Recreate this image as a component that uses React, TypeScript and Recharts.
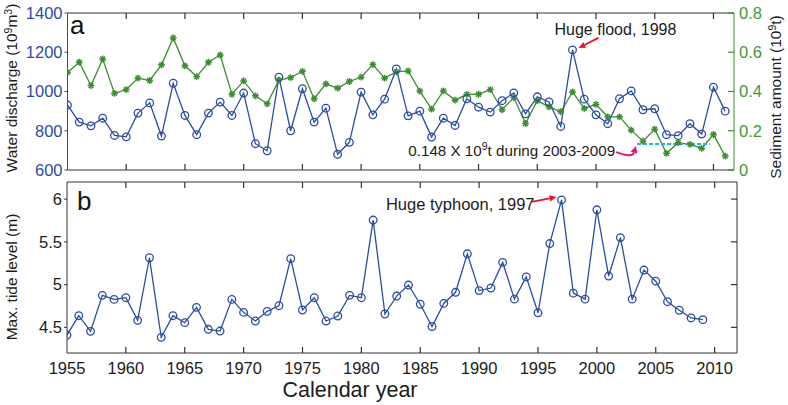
import {ComposedChart, Customized, Line, LineChart, ReferenceDot, ReferenceLine, XAxis, YAxis} from 'recharts';

const FONT = '"Liberation Sans", Arial, Helvetica, sans-serif';
const BLUE = '#2c4ca3';
const GREEN = '#3b8f2d';
const GREEN_TEXT = '#3f9a34';
const FRAME = '#333333';
const INK = '#1c1c1c';
const RED = '#e8142e';
const MAGENTA = '#e0167c';
const CYAN = '#1cb6ea';

// years 1955-2011
const years = Array.from({length: 57}, (_, i) => 1955 + i);

// water discharge, 10^9 m^3
const discharge = [
  931, 844, 825, 864, 776, 769, 890, 942, 773, 1042,
  878, 780, 890, 946, 878, 992, 734, 698, 1073, 800,
  1014, 844, 915, 680, 741, 997, 881, 961, 1115, 876,
  900, 768, 864, 827, 963, 920, 895, 953, 993, 886,
  973, 947, 822, 1212, 961, 881, 836, 963, 1003, 907,
  912, 780, 775, 836, 783, 1022, 900,
];

// sediment amount, 10^9 t
const sediment = [
  0.497, 0.549, 0.43, 0.566, 0.39, 0.41, 0.468, 0.456, 0.536, 0.673,
  0.531, 0.476, 0.549, 0.586, 0.386, 0.454, 0.378, 0.337, 0.458, 0.471,
  0.503, 0.363, 0.439, 0.417, 0.451, 0.473, 0.537, 0.468, 0.5, 0.505,
  0.402, 0.31, 0.403, 0.356, 0.385, 0.386, 0.41, 0.307, 0.369, 0.237,
  0.353, 0.322, 0.297, 0.398, 0.314, 0.334, 0.271, 0.271, 0.203, 0.147,
  0.208, 0.085, 0.139, 0.131, 0.11, 0.181, 0.071,
];

// max tide level (m), 1955-2009
const tideYears = years.slice(0, 55);
const tide = [
  4.41, 4.636, 4.453, 4.874, 4.827, 4.847, 4.582, 5.314, 4.383, 4.636,
  4.555, 4.734, 4.477, 4.457, 4.827, 4.675, 4.574, 4.687, 4.753, 5.303,
  4.703, 4.847, 4.574, 4.633, 4.874, 4.847, 5.755, 4.656, 4.866, 4.995,
  4.77, 4.51, 4.78, 4.91, 5.36, 4.93, 4.96, 5.26, 4.83, 5.09,
  4.67, 5.48, 5.99, 4.9, 4.83, 5.875, 5.1, 5.55, 4.83, 5.17,
  5.04, 4.8, 4.7, 4.61, 4.59,
];

const yearTicks = [1955, 1960, 1965, 1970, 1975, 1980, 1985, 1990, 1995, 2000, 2005, 2010];
const dischargeTicks = [600, 800, 1000, 1200, 1400];
const sedimentTicks = [0, 0.2, 0.4, 0.6, 0.8];
const tideTicks = [4.5, 5, 5.5, 6];

// mean line drawn for 2003-2009
const meanStart = 2003.5;
const meanEnd = 2009.7;
const meanLevel = 0.132;

const dataA = years.map((year, i) => ({year, discharge: discharge[i], sediment: sediment[i]}));
const dataB = tideYears.map((year, i) => ({year, tide: tide[i]}));

function Arrow({x1, y1, x2, y2, color}: any) {
  const a = Math.atan2(y2 - y1, x2 - x1);
  const bx = x2 - 7 * Math.cos(a);
  const by = y2 - 7 * Math.sin(a);
  const px = -Math.sin(a) * 3.2;
  const py = Math.cos(a) * 3.2;
  return (
    <g>
      <line x1={x1} y1={y1} x2={bx} y2={by} stroke={color} strokeWidth={1.8} />
      <polygon points={`${x2},${y2} ${bx + px},${by + py} ${bx - px},${by - py}`} fill={color} />
    </g>
  );
}

const circleDot = (props: any) => {
  const {cx, cy, index} = props;
  if (cx == null || cy == null) return <g key={index} />;
  return <circle key={index} cx={cx} cy={cy} r={3.8} fill="none" stroke={BLUE} strokeWidth={1.3} />;
};

const starDot = (props: any) => {
  const {cx, cy, index} = props;
  if (cx == null || cy == null) return <g key={index} />;
  const s = 3.4;
  const d = s * 0.7;
  return (
    <g key={index} stroke={GREEN} strokeWidth={1.5}>
      <line x1={cx - s} y1={cy} x2={cx + s} y2={cy} />
      <line x1={cx} y1={cy - s} x2={cx} y2={cy + s} />
      <line x1={cx - d} y1={cy - d} x2={cx + d} y2={cy + d} />
      <line x1={cx - d} y1={cy + d} x2={cx + d} y2={cy - d} />
    </g>
  );
};

// inward tick marks on bottom axis, optional labels below
const bottomTick = (showLabel: boolean) => (props: any) => {
  const {x, y, payload} = props;
  return (
    <g>
      {payload.value !== 1955 && <line x1={x} y1={y} x2={x} y2={y - 6} stroke={FRAME} strokeWidth={1.2} />}
      {showLabel && (
        <text x={x} y={y + 21} textAnchor="middle" fontSize={16.5} fill={INK} fontFamily={FONT}>
          {payload.value}
        </text>
      )}
    </g>
  );
};

const topTick = (props: any) => {
  const {x, y, payload} = props;
  if (payload.value === 1955) return <g />;
  return <line x1={x} y1={y} x2={x} y2={y + 6} stroke={FRAME} strokeWidth={1.2} />;
};

const rightTick = (color: string, showLabel: boolean) => (props: any) => {
  const {x, y, payload} = props;
  return (
    <g>
      <line x1={x} y1={y} x2={x - 6} y2={y} stroke={color} strokeWidth={1.2} />
      {showLabel && (
        <text x={x + 5} y={y} dy="0.36em" fontSize={16.5} fill={GREEN_TEXT} fontFamily={FONT}>
          {String(payload.value)}
        </text>
      )}
    </g>
  );
};

const FloodNote = (props: any) => {
  const {cx, cy} = props;
  return (
    <g>
      <text x={cx - 18} y={cy - 15} fontSize={16} fill={INK} fontFamily={FONT}>Huge flood, 1998</text>
      <Arrow x1={cx + 26} y1={cy - 12} x2={cx + 6} y2={cy - 2} color={RED} />
    </g>
  );
};

const MeanNote = (props: any) => {
  const {cx, cy} = props;
  const ex = cx - 1;
  const ey = cy + 2;
  const qx = cx - 5;
  const qy = cy + 14;
  const a = Math.atan2(ey - qy, ex - qx);
  const bx = ex - 7 * Math.cos(a);
  const by = ey - 7 * Math.sin(a);
  const px = -Math.sin(a) * 3.5;
  const py = Math.cos(a) * 3.5;
  return (
    <g>
      <text x={cx - 22} y={cy + 12} textAnchor="end" fontSize={15.2} fill={INK} fontFamily={FONT}>
        0.148 X 10<tspan dy={-6} fontSize={10.5}>9</tspan>
        <tspan dy={6}>t during 2003-2009</tspan>
      </text>
      <path d={`M${cx - 21},${cy + 8} Q${qx},${qy} ${bx},${by}`} fill="none" stroke={MAGENTA} strokeWidth={2} />
      <polygon points={`${ex},${ey} ${bx + px},${by + py} ${bx - px},${by - py}`} fill={MAGENTA} />
    </g>
  );
};

const TyphoonNote = (props: any) => {
  const {cx, cy} = props;
  return (
    <g>
      <text x={cx - 27} y={cy + 10} textAnchor="end" fontSize={16.5} fill={INK} fontFamily={FONT}>Huge typhoon, 1997</text>
      <Arrow x1={cx - 30} y1={cy + 2} x2={cx - 5} y2={cy - 3} color={RED} />
    </g>
  );
};

const TitlesA = () => (
  <g fontFamily={FONT}>
    <text x={70} y={34} fontSize={26} fill="#111">a</text>
    <text x={17} y={88} transform="rotate(-90 17 88)" textAnchor="middle" fontSize={15.5} fill={INK}>
      Water discharge (10<tspan dy={-5} fontSize={10.5}>9</tspan>
      <tspan dy={5}>m</tspan>
      <tspan dy={-5} fontSize={10.5}>3</tspan>
      <tspan dy={5}>)</tspan>
    </text>
    <text x={781} y={97} transform="rotate(-90 781 97)" textAnchor="middle" fontSize={15.5} fill={INK}>
      Sediment  amount (10<tspan dy={-5} fontSize={10.5}>9</tspan>
      <tspan dy={5}>t)</tspan>
    </text>
  </g>
);

const TitlesB = () => (
  <g fontFamily={FONT}>
    <text x={77} y={210} fontSize={26} fill="#111">b</text>
    <text x={17} y={277} transform="rotate(-90 17 277)" textAnchor="middle" fontSize={15.5} fill={INK}>
      Max. tide level (m)
    </text>
    <text x={350} y={397} textAnchor="middle" fontSize={21.5} fill={INK}>Calendar year</text>
  </g>
);

const i1998 = years.indexOf(1998);
const i1997 = tideYears.indexOf(1997);

export default function App() {
  return (
    <div style={{position: 'absolute', left: 0, top: 0, width: 788, height: 405, background: '#fff'}}>
      <div style={{position: 'absolute', left: 0, top: 0}}>
        <ComposedChart width={788} height={405} data={dataA} margin={{top: 12, right: 0, bottom: 230, left: 0}}>
          <XAxis
            xAxisId="bx"
            dataKey="year"
            type="number"
            domain={[1955, 2011.75]}
            allowDataOverflow
            ticks={yearTicks}
            interval={0}
            height={5}
            tickSize={0}
            tickMargin={0}
            tickLine={false}
            stroke={FRAME}
            tick={bottomTick(false)}
          />
          <XAxis
            xAxisId="tx"
            orientation="top"
            dataKey="year"
            type="number"
            domain={[1955, 2011.75]}
            allowDataOverflow
            ticks={yearTicks}
            interval={0}
            height={1}
            tickSize={0}
            tickMargin={0}
            tickLine={false}
            stroke={FRAME}
            tick={topTick}
          />
          <YAxis
            yAxisId="q"
            domain={[600, 1400]}
            allowDataOverflow
            ticks={dischargeTicks}
            interval={0}
            width={67.5}
            tickSize={3}
            tickMargin={2}
            stroke={BLUE}
            tick={{fill: BLUE, fontSize: 16.5, fontFamily: FONT}}
          />
          <YAxis
            yAxisId="s"
            orientation="right"
            domain={[0, 0.8]}
            allowDataOverflow
            ticks={sedimentTicks}
            interval={0}
            width={54}
            tickSize={0}
            tickMargin={0}
            tickLine={false}
            stroke={GREEN}
            tick={rightTick(GREEN, true)}
          />
          <Line
            xAxisId="bx"
            yAxisId="s"
            dataKey="sediment"
            type="linear"
            stroke={GREEN}
            strokeWidth={1.3}
            dot={starDot}
            isAnimationActive={false}
          />
          <Line
            xAxisId="bx"
            yAxisId="q"
            dataKey="discharge"
            type="linear"
            stroke={BLUE}
            strokeWidth={1.3}
            dot={circleDot}
            isAnimationActive={false}
          />
          <ReferenceLine
            xAxisId="bx"
            yAxisId="s"
            segment={[{x: meanStart, y: meanLevel}, {x: meanEnd, y: meanLevel}]}
            stroke={CYAN}
            strokeWidth={2}
            strokeDasharray="4 2"
          />
          <ReferenceDot xAxisId="bx" yAxisId="q" x={1998} y={discharge[i1998]} r={0} shape={FloodNote} />
          <ReferenceDot xAxisId="bx" yAxisId="s" x={meanStart} y={meanLevel} r={0} shape={MeanNote} />
          <Customized component={TitlesA} />
        </ComposedChart>
      </div>
      <div style={{position: 'absolute', left: 0, top: 0}}>
        <LineChart width={788} height={405} data={dataB} margin={{top: 181, right: 0, bottom: 0, left: 0}}>
          <XAxis
            xAxisId="bx"
            dataKey="year"
            type="number"
            domain={[1955, 2011.9]}
            allowDataOverflow
            ticks={yearTicks}
            interval={0}
            height={52}
            tickSize={0}
            tickMargin={0}
            tickLine={false}
            stroke={FRAME}
            tick={bottomTick(true)}
          />
          <XAxis
            xAxisId="tx"
            orientation="top"
            dataKey="year"
            type="number"
            domain={[1955, 2011.9]}
            allowDataOverflow
            ticks={yearTicks}
            interval={0}
            height={1}
            tickSize={0}
            tickMargin={0}
            tickLine={false}
            stroke={FRAME}
            tick={topTick}
          />
          <YAxis
            yAxisId="t"
            domain={[4.2, 6.2]}
            allowDataOverflow
            ticks={tideTicks}
            interval={0}
            width={67}
            tickSize={3}
            tickMargin={2}
            stroke={FRAME}
            tick={{fill: INK, fontSize: 16.5, fontFamily: FONT}}
          />
          <YAxis
            yAxisId="r"
            orientation="right"
            domain={[4.2, 6.2]}
            allowDataOverflow
            ticks={tideTicks}
            interval={0}
            width={51}
            tickSize={0}
            tickMargin={0}
            tickLine={false}
            stroke={FRAME}
            tick={rightTick(FRAME, false)}
          />
          <Line
            xAxisId="bx"
            yAxisId="t"
            dataKey="tide"
            type="linear"
            stroke={BLUE}
            strokeWidth={1.3}
            dot={circleDot}
            isAnimationActive={false}
          />
          <ReferenceDot xAxisId="bx" yAxisId="t" x={1997} y={tide[i1997]} r={0} shape={TyphoonNote} />
          <Customized component={TitlesB} />
        </LineChart>
      </div>
    </div>
  );
}
